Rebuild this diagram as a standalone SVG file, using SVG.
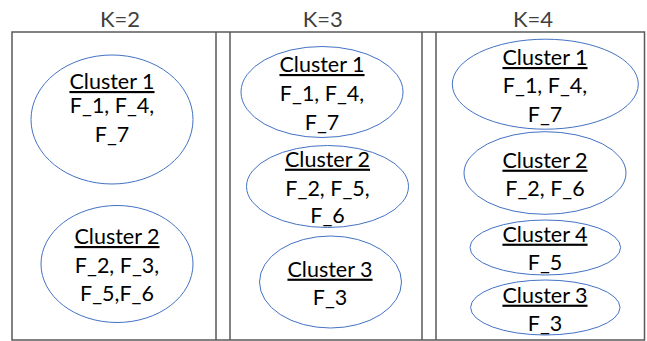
<svg xmlns="http://www.w3.org/2000/svg" width="647" height="341" viewBox="0 0 647 341">
<style>
.frame{fill:none;stroke:#595959;stroke-width:1.5}
.cl{fill:#fff;stroke:#4472C4;stroke-width:1}
.t{font-family:Lato,"Liberation Sans",sans-serif;font-size:21.5px;fill:#000;text-anchor:middle}
.h{text-decoration:underline}
.k{font-family:Lato,"Liberation Sans",sans-serif;font-weight:400;font-size:22px;fill:#404040;text-anchor:middle}
</style>
<rect width="647" height="341" fill="#fff"/>
<g id="titles">
<text class="k" x="120" y="26.5">K=2</text>
<text class="k" x="322.7" y="26.5">K=3</text>
<text class="k" x="533" y="26.5">K=4</text>
</g>
<g id="frame" class="frame">
<rect x="12" y="32" width="632.5" height="308"/>
<line x1="216" y1="32" x2="216" y2="340"/>
<line x1="230" y1="32" x2="230" y2="340"/>
<line x1="422" y1="32" x2="422" y2="340"/>
<line x1="436" y1="32" x2="436" y2="340"/>
</g>
<g id="k2-cluster1">
<ellipse class="cl" cx="112" cy="119.5" rx="81" ry="64.5"/>
<text class="t h" x="112" y="89">Cluster 1</text>
<text class="t" x="112" y="113">F_1, F_4,</text>
<text class="t" x="112" y="142">F_7</text>
</g>
<g id="k2-cluster2">
<ellipse class="cl" cx="117" cy="264" rx="76" ry="58.5"/>
<text class="t h" x="117" y="244">Cluster 2</text>
<text class="t" x="117" y="273">F_2, F_3,</text>
<text class="t" x="117" y="301">F_5,F_6</text>
</g>
<g id="k3-cluster1">
<ellipse class="cl" cx="322" cy="92" rx="81" ry="45.5"/>
<text class="t h" x="322" y="72">Cluster 1</text>
<text class="t" x="322" y="101">F_1, F_4,</text>
<text class="t" x="322" y="129.5">F_7</text>
</g>
<g id="k3-cluster2">
<ellipse class="cl" cx="327.5" cy="186.5" rx="81" ry="41"/>
<text class="t h" x="327.5" y="166.7">Cluster 2</text>
<text class="t" x="327.5" y="196">F_2, F_5,</text>
<text class="t" x="327.5" y="223.3">F_6</text>
</g>
<g id="k3-cluster3">
<ellipse class="cl" cx="330.5" cy="282" rx="71" ry="46"/>
<text class="t h" x="330" y="276.7">Cluster 3</text>
<text class="t" x="330" y="305">F_3</text>
</g>
<g id="k4-cluster1">
<ellipse class="cl" cx="545.3" cy="84.2" rx="93" ry="45"/>
<text class="t h" x="545" y="65">Cluster 1</text>
<text class="t" x="545" y="93.3">F_1, F_4,</text>
<text class="t" x="545" y="121.7">F_7</text>
</g>
<g id="k4-cluster2">
<ellipse class="cl" cx="545" cy="173" rx="81" ry="41.3"/>
<text class="t h" x="545" y="167.7">Cluster 2</text>
<text class="t" x="545" y="196">F_2, F_6</text>
</g>
<g id="k4-cluster4">
<ellipse class="cl" cx="545.3" cy="247.5" rx="75.3" ry="27.5"/>
<text class="t h" x="545" y="241.7">Cluster 4</text>
<text class="t" x="545" y="270">F_5</text>
</g>
<g id="k4-cluster3">
<ellipse class="cl" cx="545.3" cy="307.5" rx="74.7" ry="27.5"/>
<text class="t h" x="545" y="302.7">Cluster 3</text>
<text class="t" x="545" y="330.7">F_3</text>
</g>
<g id="connectors"></g>
</svg>
